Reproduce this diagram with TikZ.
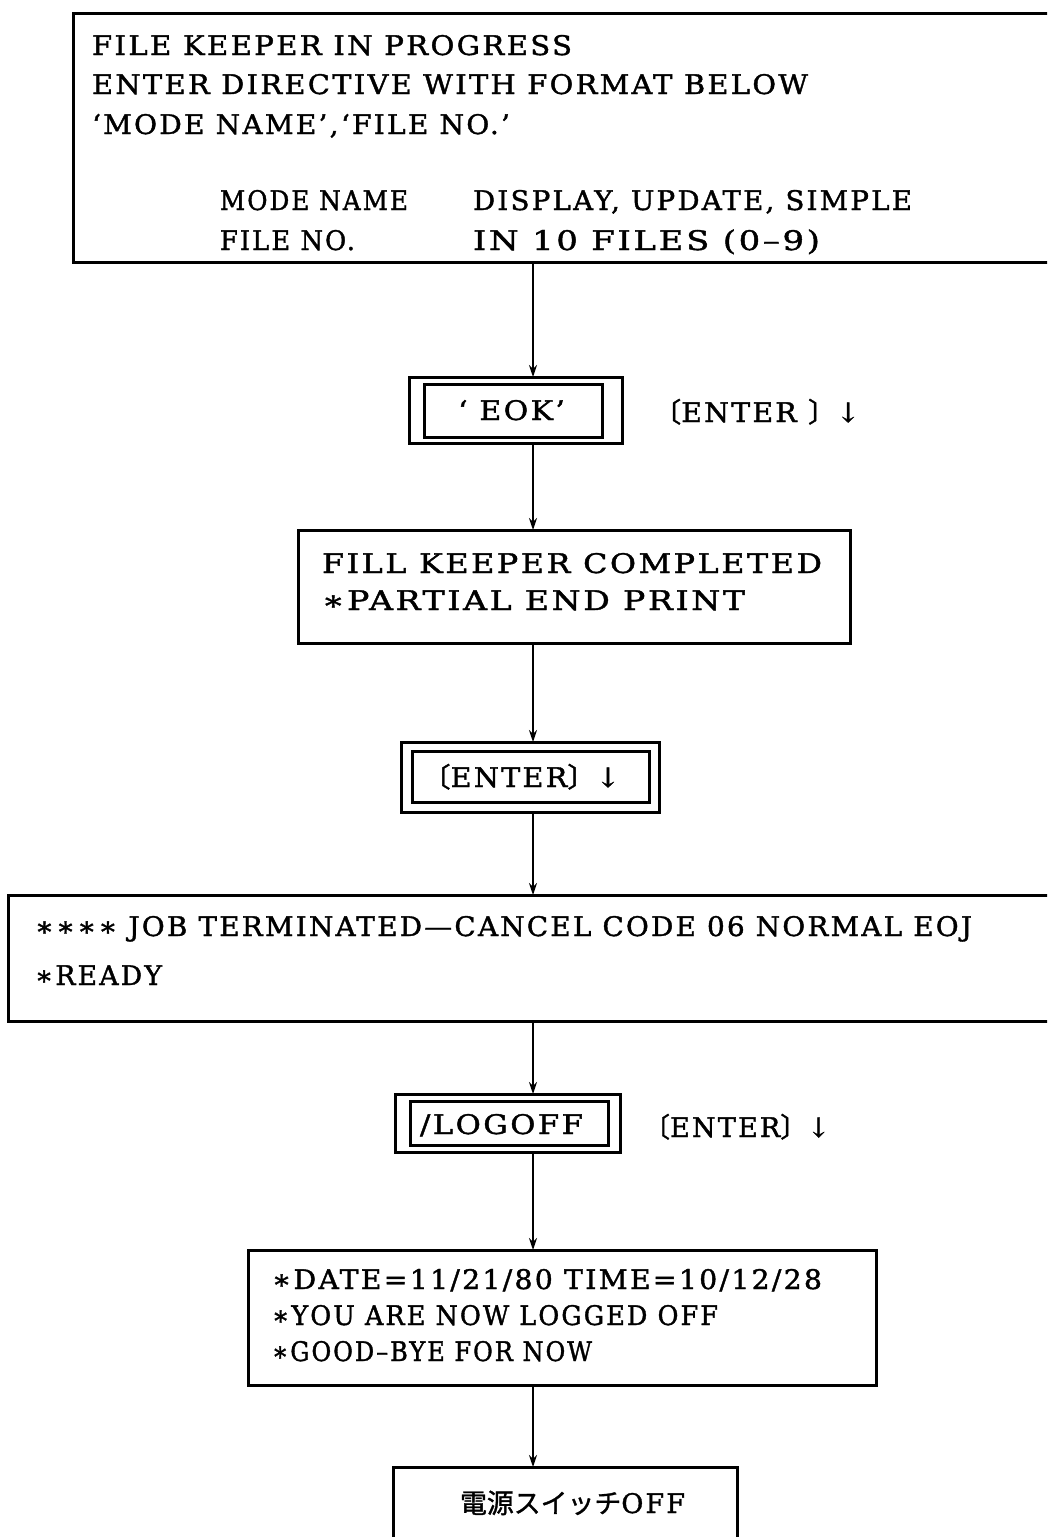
\documentclass[tikz,border=0pt]{standalone}
\usepackage{fontspec}
\usepackage{graphicx}
\setmainfont{DejaVu Serif}
\newfontfamily\cjk{Noto Sans CJK JP}[FakeBold=1.2]
\usetikzlibrary{arrows.meta}
\newcommand\fitw[2]{\resizebox{#1pt}{\height}{\addfontfeature{LetterSpace=8,FakeBold=1.4}#2}}
\begin{document}
\begin{tikzpicture}[x=1pt,y=-1pt,
  box/.style={draw, line width=3pt, inner sep=0pt, outer sep=0pt},
  txt/.style={anchor=base west, inner sep=0pt, outer sep=0pt, font=\fontsize{27}{30}\selectfont},
  arr/.style={line width=2.8pt, -{Stealth[length=12pt,width=8pt]}}]
\clip (0,0) rectangle (1047,1537);
\fill[white] (0,0) rectangle (1047,1537);
\coordinate (ax) at (533,0);
% boxes
\node[box, minimum width=987pt, minimum height=249pt] (top) at (566.5,137.5) {};
\node[box, minimum width=213pt, minimum height=66pt] (eokout) at (515.5,410) {};
\node[box, minimum width=178pt, minimum height=53pt] (eok) at (513,410.5) {};
\node[box, minimum width=552pt, minimum height=113pt] (fill) at (574,586.5) {};
\node[box, minimum width=258pt, minimum height=70pt] (entout) at (530,777) {};
\node[box, minimum width=237pt, minimum height=51pt] (ent) at (530.5,776.5) {};
\node[box, minimum width=1052pt, minimum height=126pt] (job) at (534,958) {};
\node[box, minimum width=225pt, minimum height=58pt] (logout) at (507.5,1123) {};
\node[box, minimum width=198pt, minimum height=44pt] (logoff) at (509,1123) {};
\node[box, minimum width=628pt, minimum height=135pt] (date) at (562,1317.5) {};
\node[box, minimum width=344pt, minimum height=93pt] (power) at (565,1513.5) {};
% texts
\node[txt] (t1) at (92,55) {\fitw{480}{FILE KEEPER IN PROGRESS}};
\node[txt] (t2) at (92,94) {\fitw{716}{ENTER DIRECTIVE WITH FORMAT BELOW}};
\node[txt] (t3) at (92,134) {\fitw{418}{‘MODE NAME’,‘FILE NO.’}};
\node[txt] (t4) at (220,210) {\fitw{188}{MODE NAME}};
\node[txt] (t5) at (473,210) {\fitw{439}{DISPLAY, UPDATE, SIMPLE}};
\node[txt] (t6) at (220,250) {\fitw{135}{FILE NO.}};
\node[txt] (t7) at (473,250) {\fitw{347}{IN 10 FILES (0–9)}};
\node[txt] (t8) at (458,420) {\fitw{107}{‘ EOK’}};
\node[txt] (t9) at (653,422) {\fitw{207}{{\cjk 〔}ENTER {\cjk 〕}↓}};
\node[txt] (t10) at (322,573) {\fitw{500}{FILL KEEPER COMPLETED}};
\node[txt] (t11) at (322,610) {\fitw{423}{∗PARTIAL END PRINT}};
\node[txt] (t12) at (422,787) {\fitw{198}{{\cjk 〔}ENTER{\cjk 〕}↓}};
\node[txt] (t13) at (35,936) {\fitw{937}{∗∗∗∗ JOB TERMINATED—CANCEL CODE 06 NORMAL EOJ}};
\node[txt] (t14) at (35,985) {\fitw{127}{∗READY}};
\node[txt] (t15) at (420,1134) {\fitw{163}{/LOGOFF}};
\node[txt] (t16) at (643,1137) {\fitw{187}{{\cjk 〔}ENTER{\cjk 〕}↓}};
\node[txt] (t17) at (272,1289) {\fitw{550}{∗DATE=11/21/80 TIME=10/12/28}};
\node[txt] (t18) at (272,1325) {\fitw{446}{∗YOU ARE NOW LOGGED OFF}};
\node[txt] (t19) at (272,1361) {\fitw{320}{∗GOOD–BYE FOR NOW}};
\node[txt] (t20) at (460,1513) {\fitw{225}{{\cjk 電源スイッチ}OFF}};
% connectors
\draw[arr] (top.south -| ax) -- (eokout.north -| ax);
\draw[arr] (eokout.south -| ax) -- (fill.north -| ax);
\draw[arr] (fill.south -| ax) -- (entout.north -| ax);
\draw[arr] (entout.south -| ax) -- (job.north -| ax);
\draw[arr] (job.south -| ax) -- (logout.north -| ax);
\draw[arr] (logout.south -| ax) -- (date.north -| ax);
\draw[arr] (date.south -| ax) -- (power.north -| ax);
\end{tikzpicture}
\end{document}
